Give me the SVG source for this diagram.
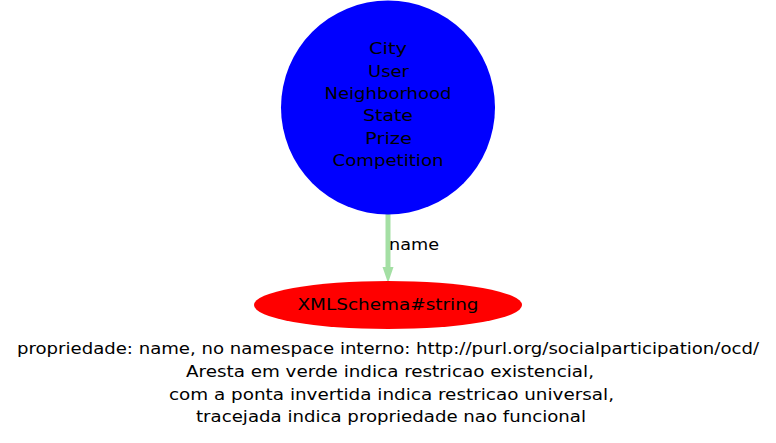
<svg xmlns="http://www.w3.org/2000/svg" width="776" height="443" viewBox="0 0 776 443">
<style>
text{font-family:"DejaVu Sans",sans-serif;font-size:16px;fill:#000;text-anchor:middle}
.edge{stroke:#a4dfa4;stroke-width:5;fill:none}
.head{fill:#a4dfa4}
</style>
<rect width="776" height="443" fill="#fff"/>
<g id="connectors">
<line class="edge" x1="388" y1="211" x2="388" y2="268"/>
<polygon class="head" points="382.5,267 393.5,267 388,283"/>
<text x="414" y="250" textLength="50" lengthAdjust="spacingAndGlyphs">name</text>
</g>
<g id="node-classes">
<circle cx="388" cy="107.5" r="107" fill="#0000ff"/>
<text x="388" y="54" textLength="38" lengthAdjust="spacingAndGlyphs">City</text>
<text x="388.5" y="76.5" textLength="41" lengthAdjust="spacingAndGlyphs">User</text>
<text x="388" y="98.5" textLength="127" lengthAdjust="spacingAndGlyphs">Neighborhood</text>
<text x="388" y="121" textLength="50" lengthAdjust="spacingAndGlyphs">State</text>
<text x="388.5" y="143.5" textLength="47" lengthAdjust="spacingAndGlyphs">Prize</text>
<text x="388" y="165.5" textLength="111" lengthAdjust="spacingAndGlyphs">Competition</text>
</g>
<g id="node-string">
<ellipse cx="388" cy="305" rx="134" ry="24" fill="#ff0000"/>
<text x="388" y="310" textLength="181" lengthAdjust="spacingAndGlyphs">XMLSchema#string</text>
</g>
<g id="caption">
<text x="388" y="354" textLength="742" lengthAdjust="spacingAndGlyphs">propriedade: name, no namespace interno: http://purl.org/socialparticipation/ocd/</text>
<text x="390" y="377" textLength="408" lengthAdjust="spacingAndGlyphs">Aresta em verde indica restricao existencial,</text>
<text x="391.5" y="399.5" textLength="445" lengthAdjust="spacingAndGlyphs">com a ponta invertida indica restricao universal,</text>
<text x="391" y="422" textLength="390" lengthAdjust="spacingAndGlyphs">tracejada indica propriedade nao funcional</text>
</g>
</svg>
